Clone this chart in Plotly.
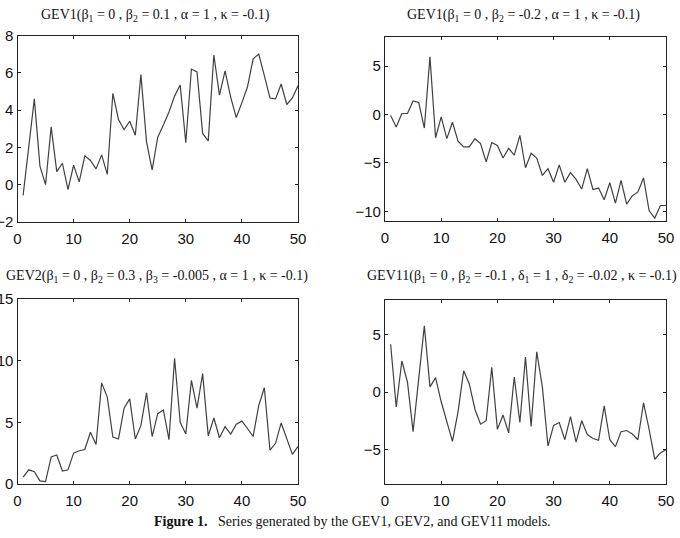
import plotly.graph_objects as go

t = list(range(1, 51))

gev1_a = [-0.57, 2.0, 4.6, 1.0, 0.0, 3.1, 0.7, 1.15, -0.27, 1.05,
          0.15, 1.55, 1.3, 0.85, 1.6, 0.55, 4.9, 3.5, 2.95, 3.4,
          2.65, 5.9, 2.3, 0.8, 2.55, 3.2, 3.9, 4.75, 5.35, 2.25,
          6.2, 6.05, 2.75, 2.35, 6.95, 4.8, 6.1, 4.7, 3.6, 4.4,
          5.25, 6.75, 7.0, 5.85, 4.65, 4.6, 5.4, 4.3, 4.65, 5.3]

gev1_b = [-0.1, -1.3, 0.1, 0.1, 1.4, 1.25, -1.4, 5.95, -2.4, -0.25,
          -2.5, -0.8, -2.75, -3.35, -3.35, -2.5, -3.0, -4.9, -2.9, -3.2,
          -4.5, -3.5, -4.2, -2.15, -5.5, -4.0, -4.5, -6.3, -5.6, -7.0,
          -5.2, -7.0, -6.0, -6.7, -7.7, -5.6, -7.75, -7.6, -8.8, -7.05,
          -9.15, -6.8, -9.25, -8.4, -8.0, -6.55, -9.95, -10.7, -9.4, -9.4]

gev2 = [0.55, 1.15, 1.0, 0.25, 0.2, 2.2, 2.35, 1.05, 1.15, 2.5,
        2.7, 2.8, 4.2, 3.2, 8.2, 7.05, 3.8, 3.65, 6.15, 6.9,
        3.65, 4.75, 7.4, 3.85, 5.7, 6.0, 3.6, 10.2, 5.0, 4.05,
        8.4, 6.15, 8.95, 3.9, 5.35, 3.75, 4.65, 4.05, 4.85, 5.1,
        4.5, 3.85, 6.35, 7.8, 2.75, 3.3, 4.95, 3.65, 2.4, 3.05]

gev11 = [4.15, -1.3, 2.7, 0.85, -3.45, 1.45, 5.75, 0.45, 1.25, -0.85,
         -2.6, -4.3, -1.7, 1.85, 0.7, -1.5, -2.8, -2.5, 2.15, -3.25,
         -2.0, -3.55, 1.3, -2.65, 3.05, -3.0, 3.5, 0.45, -4.7, -2.9,
         -2.65, -4.15, -2.15, -4.35, -2.5, -3.7, -4.05, -4.2, -1.2, -4.15,
         -4.75, -3.45, -3.35, -3.65, -4.15, -0.95, -3.25, -5.85, -5.3, -5.0]

titles = [
    "GEV1(β<sub>1</sub> = 0 , β<sub>2</sub> = 0.1 , α = 1 , κ = -0.1)",
    "GEV1(β<sub>1</sub> = 0 , β<sub>2</sub> = -0.2 , α = 1 , κ = -0.1)",
    "GEV2(β<sub>1</sub> = 0 , β<sub>2</sub> = 0.3 , β<sub>3</sub> = -0.005 , α = 1 , κ = -0.1)",
    "GEV11(β<sub>1</sub> = 0 , β<sub>2</sub> = -0.1 , δ<sub>1</sub> = 1 , δ<sub>2</sub> = -0.02 , κ = -0.1)",
]
caption = "<b>Figure 1.</b>   Series generated by the GEV1, GEV2, and GEV11 models."

series = [gev1_a, gev1_b, gev2, gev11]
yranges = [[-2, 8], [-11, 8], [0, 15], [-8, 8]]
ytickvals = [[-2, 0, 2, 4, 6, 8], [-10, -5, 0, 5], [0, 5, 10, 15], [-5, 0, 5]]

W, H = 680, 538
boxes = [  # left, right, top, bottom in pixels
    (17.5, 298, 35.5, 222),
    (385, 666, 37, 221),
    (17.5, 298, 299, 484),
    (385, 666, 300, 484),
]
title_pos = [(155, 15), (523, 15), (157, 276), (522, 276)]

fig = go.Figure()
for i, (ys, box) in enumerate(zip(series, boxes)):
    n = "" if i == 0 else str(i + 1)
    fig.add_trace(go.Scatter(x=t, y=ys, mode="lines",
                             line=dict(color="#404040", width=1.2),
                             xaxis="x" + n, yaxis="y" + n, showlegend=False))
    l, r, tp, b = box
    ax = dict(showline=True, linecolor="#222", linewidth=1.3, mirror="ticks",
              ticks="inside", ticklen=3, tickcolor="#222", tickwidth=1,
              showgrid=False, zeroline=False, automargin=False,
              tickfont=dict(family="Liberation Sans, Arial", size=15, color="#111"))
    fig.update_layout(**{
        "xaxis" + n: dict(ax, domain=[l / W, r / W], range=[0, 50],
                          tickvals=[0, 10, 20, 30, 40, 50], anchor="y" + n,
                          ticklabelstandoff=3),
        "yaxis" + n: dict(ax, domain=[1 - b / H, 1 - tp / H], range=yranges[i],
                          tickvals=ytickvals[i], anchor="x" + n),
    })
    fig.add_annotation(text=titles[i], x=title_pos[i][0] / W, y=1 - title_pos[i][1] / H,
                       xref="paper", yref="paper", showarrow=False,
                       xanchor="center", yanchor="middle",
                       font=dict(family="Liberation Serif, Times New Roman", size=14, color="#111"))

fig.add_annotation(text=caption, x=352 / W, y=1 - 521 / H, xref="paper", yref="paper",
                   showarrow=False, xanchor="center", yanchor="middle",
                   font=dict(family="Liberation Serif, Times New Roman", size=14, color="#111"))

fig.update_layout(width=W, height=H, margin=dict(l=0, r=0, t=0, b=0),
                  paper_bgcolor="white", plot_bgcolor="white")
fig.write_html("out.html")
